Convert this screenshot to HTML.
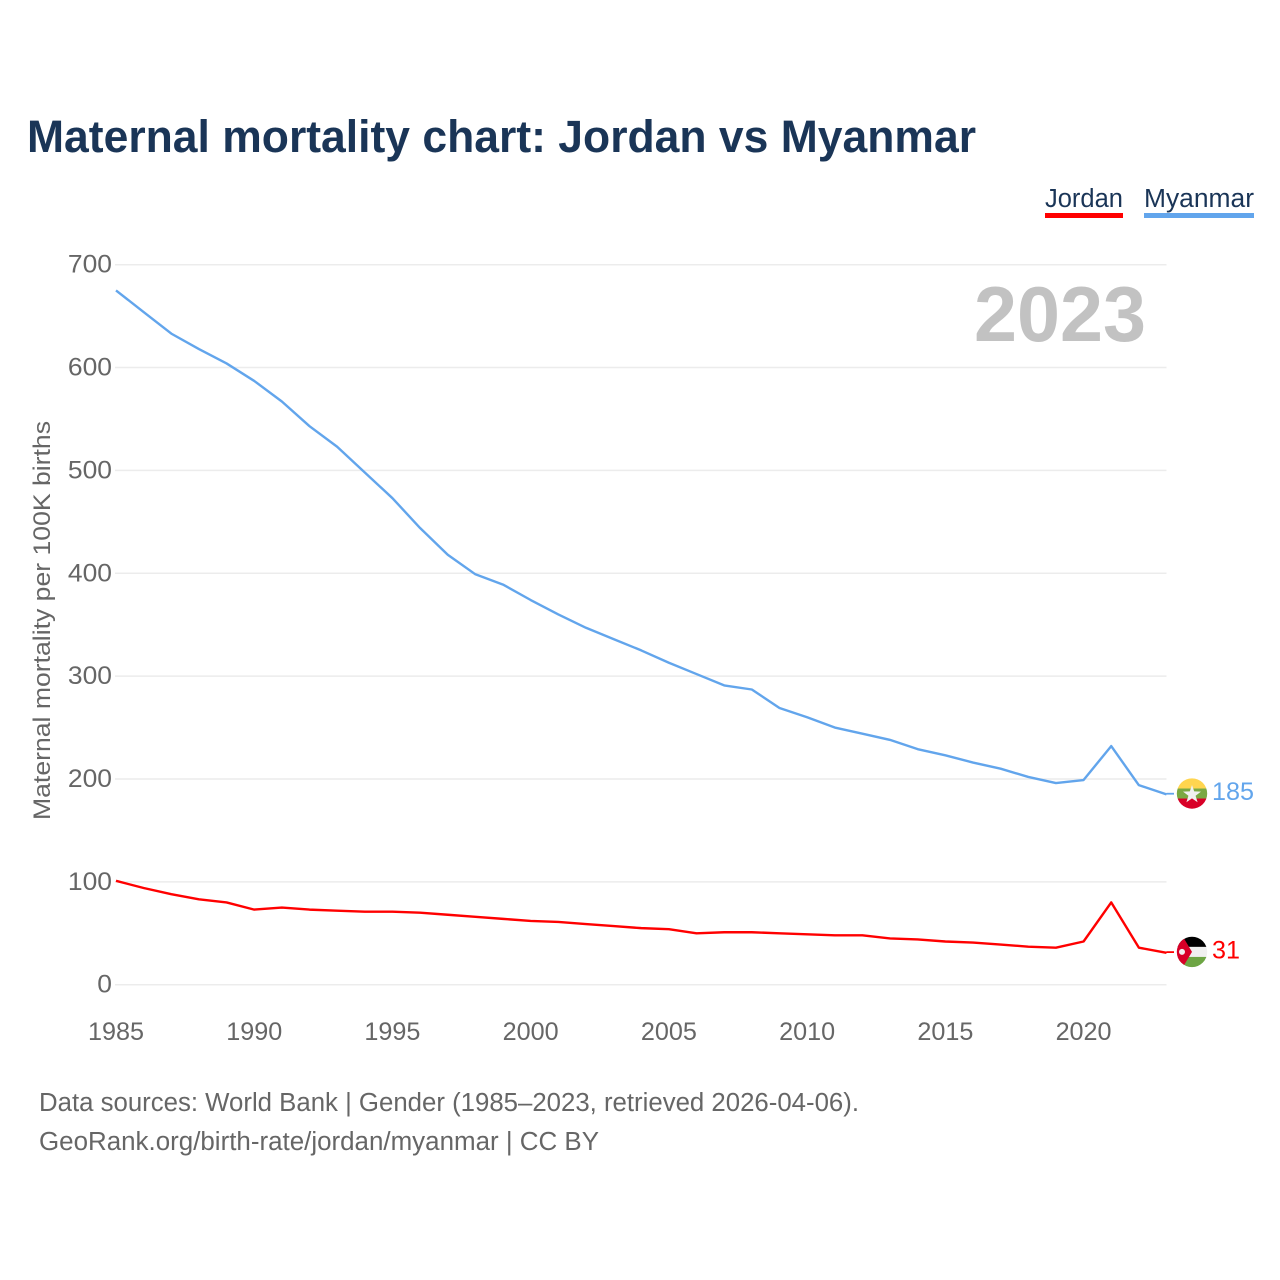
<!DOCTYPE html>
<html lang="en">
<head>
<meta charset="utf-8">
<title>Maternal mortality chart: Jordan vs Myanmar</title>
<style>
html,body{margin:0;padding:0;background:#fff;width:1280px;height:1280px;overflow:hidden}
svg{display:block}
text{font-family:"Liberation Sans",sans-serif}
</style>
</head>
<body>
<svg id="chart" xmlns="http://www.w3.org/2000/svg" width="1280" height="1280" viewBox="0 0 1280 1280">
  <defs>
    <clipPath id="clip-flag"><circle cx="0" cy="0" r="15.2"></circle></clipPath>
  </defs>
  <rect x="0" y="0" width="1280" height="1280" fill="#fff"></rect>
  <text x="27" y="152" font-size="45" font-weight="700" fill="#1a3557" textLength="949" lengthAdjust="spacingAndGlyphs">Maternal mortality chart: Jordan vs Myanmar</text>

  <g>
    <g>
      <text x="1045" y="207" font-size="25.5" fill="#1a3557" textLength="78" lengthAdjust="spacingAndGlyphs">Jordan</text>
      <rect x="1045" y="213" width="78" height="5" fill="#ff0000"></rect>
    </g>
    <g>
      <text x="1144" y="207" font-size="25.5" fill="#1a3557" textLength="110" lengthAdjust="spacingAndGlyphs">Myanmar</text>
      <rect x="1144" y="213" width="110" height="5" fill="#62a5ec"></rect>
    </g>
  </g>

  <g id="grid"></g>
  <g id="y-ticks"></g>
  <g id="x-ticks"></g>

  <text transform="translate(50,820) rotate(-90)" font-size="24" fill="#666" textLength="399" lengthAdjust="spacingAndGlyphs">Maternal mortality per 100K births</text>
  <text id="year-label" x="1146" y="341" font-size="78" font-weight="700" fill="#c2c2c2" text-anchor="end" textLength="172" lengthAdjust="spacingAndGlyphs"></text>

  <g id="series"></g>
  <g id="ends"></g>

  <text x="39" y="1111" font-size="25.5" fill="#666" textLength="820" lengthAdjust="spacingAndGlyphs">Data sources: World Bank | Gender (1985–2023, retrieved 2026-04-06).</text>
  <text x="39" y="1150" font-size="25.5" fill="#666" textLength="560" lengthAdjust="spacingAndGlyphs">GeoRank.org/birth-rate/jordan/myanmar | CC BY</text>
</svg>
<script>
const years = [1985,1986,1987,1988,1989,1990,1991,1992,1993,1994,1995,1996,1997,1998,1999,2000,2001,2002,2003,2004,2005,2006,2007,2008,2009,2010,2011,2012,2013,2014,2015,2016,2017,2018,2019,2020,2021,2022,2023];
const myanmarValues = [675,654,633,618,604,587,567,543,523,498,473,444,418,399,389,374,360,347,336,325,313,302,291,287,269,260,250,244,238,229,223,216,210,202,196,199,232,194,185];
const jordanValues = [101,94,88,83,80,73,75,73,72,71,71,70,68,66,64,62,61,59,57,55,54,50,51,51,50,49,48,48,45,44,42,41,39,37,36,42,80,36,31];
const yTickValues = [0,100,200,300,400,500,600,700];
const xTickValues = [1985,1990,1995,2000,2005,2010,2015,2020];

const NS = 'http://www.w3.org/2000/svg';
const xScale = function (year) { return 116 + (year - 1985) * (1166.5 - 116) / 38; };
const yScale = function (value) { return 984.7 - value * (984.7 - 264.7) / 700; };

function make(tag, parent, attrs) {
  const el = document.createElementNS(NS, tag);
  Object.keys(attrs).forEach(function (k) { el.setAttribute(k, attrs[k]); });
  parent.appendChild(el);
  return el;
}

const grid = document.getElementById('grid');
const yTicks = document.getElementById('y-ticks');
const xTicks = document.getElementById('x-ticks');
const series = document.getElementById('series');
const ends = document.getElementById('ends');

yTickValues.forEach(function (v) {
  const line = make('line', grid, {x1: 115, x2: 1166.5, y1: yScale(v), y2: yScale(v), stroke: '#ececec', 'stroke-width': 1.5});
  
  
  const t = make('text', yTicks, {x: 112, y: yScale(v) + 8, 'font-size': 25, fill: '#666', 'text-anchor': 'end', textLength: String(v).length * 14.7, lengthAdjust: 'spacingAndGlyphs'});
  
  
  t.textContent = v;
});

xTickValues.forEach(function (y) {
  const t = make('text', xTicks, {x: xScale(y), y: 1040, 'font-size': 25, fill: '#666', 'text-anchor': 'middle', textLength: 56, lengthAdjust: 'spacingAndGlyphs'});
  
  
  t.textContent = y;
});

function drawSeries(name, values, color) {
  const pts = values.map(function (v, i) { return xScale(years[i]) + ',' + yScale(v); }).join(' ');
  const line = make('polyline', series, {points: pts, fill: 'none', stroke: color, 'stroke-width': 2.4, 'stroke-linejoin': 'round'});
  
  
  const last = values[values.length - 1];
  const ly = yScale(last);
  const leader = make('line', ends, {x1: xScale(years[years.length - 1]), x2: 1174, y1: ly - 0.7, y2: ly - 0.7, stroke: color, 'stroke-width': 1.8});
  
  
  const flag = make('g', ends, {transform: 'translate(1192,' + (ly - 0.9) + ')'});
  
  
  const inner = make('g', flag, {'clip-path': 'url(#clip-flag)'});
  if (name === 'myanmar') {
    make('rect', inner, {x: -16, y: -16, width: 32, height: 11, fill: '#ffd54f'});
    make('rect', inner, {x: -16, y: -5, width: 32, height: 10, fill: '#7aa843'});
    make('rect', inner, {x: -16, y: 5, width: 32, height: 11, fill: '#d80027'});
    make('polygon', inner, {points: '0,-8.5 2.2,-2.1 9,-1.9 3.6,2.2 5.6,8.7 0,4.8 -5.6,8.7 -3.6,2.2 -9,-1.9 -2.2,-2.1', fill: '#f0f0f0'});
  } else {
    make('rect', inner, {x: -16, y: -16, width: 32, height: 11, fill: '#000'});
    make('rect', inner, {x: -16, y: -5, width: 32, height: 10, fill: '#f0f0f0'});
    make('rect', inner, {x: -16, y: 5, width: 32, height: 11, fill: '#6da544'});
    make('polygon', inner, {points: '-16,-16 -9,-15 0,0 -9,15 -16,16', fill: '#d80027'});
    make('circle', inner, {cx: -10, cy: 0, r: 3, fill: '#f0f0f0'});
  }
  const label = make('text', ends, {x: 1212, y: ly + 5.5, 'font-size': 25, fill: color, textLength: String(last).length * 14, lengthAdjust: 'spacingAndGlyphs'});
  
  
  label.textContent = last;
}

drawSeries('myanmar', myanmarValues, '#62a5ec');
drawSeries('jordan', jordanValues, '#ff0000');

document.getElementById('year-label').textContent = years[years.length - 1];
</script>
</body>
</html>
